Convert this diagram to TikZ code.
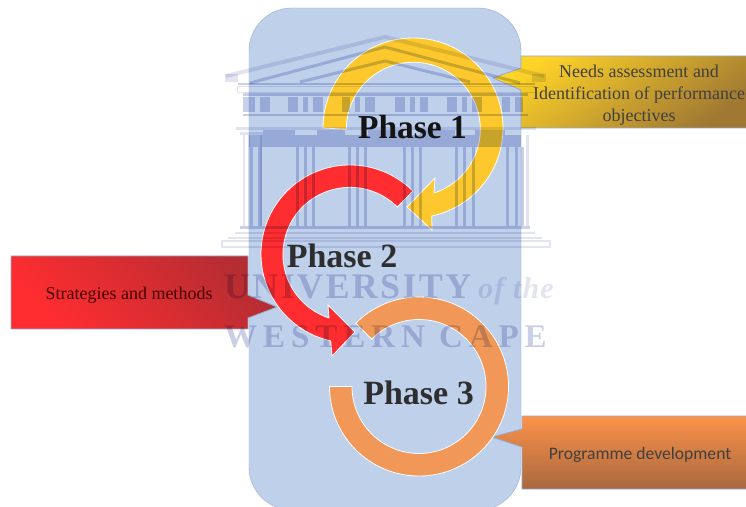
\documentclass[tikz,border=0pt]{standalone}
\usepackage{fontspec}
\setmainfont{Liberation Serif}
\newfontfamily\calibrifont{Carlito}
\definecolor{panelblue}{RGB}{191,208,235}
\definecolor{paneledge}{RGB}{150,172,208}
\definecolor{arrowyellow}{RGB}{253,200,45}
\definecolor{arrowred}{RGB}{255,45,48}
\definecolor{arroworange}{RGB}{241,151,88}
\definecolor{callyellow}{RGB}{255,212,40}
\definecolor{callyellowdark}{RGB}{160,120,50}
\definecolor{callreddark}{RGB}{180,45,50}
\definecolor{callorange}{RGB}{252,146,74}
\definecolor{callorangedark}{RGB}{168,104,62}
\definecolor{wmA}{RGB}{226,228,240}
\definecolor{wmB}{RGB}{202,208,234}
\definecolor{wmC}{RGB}{203,207,230}
\tikzset{
  cyclearrow/.style={draw=white,line width=0.8pt,line join=miter},
  callout/.style={draw=paneledge,line width=0.9pt},
  calltext/.style={font=\fontsize{18}{22}\selectfont,align=center,text=black!75,inner sep=0pt},
  phasetext/.style={font=\fontsize{34}{34}\selectfont\bfseries,inner sep=0pt,anchor=base,text=black!82},
  wmline/.style={draw=wmA,line width=#1},
  wmtext/.style={inner sep=0pt,anchor=base west,text=wmC}
}
\begin{document}
\begin{tikzpicture}[x=1pt,y=1pt]
\useasboundingbox (0,0) rectangle (746,506);
\clip (0,0) rectangle (746,506);
\fill[white] (0,0) rectangle (746,506);
% panel
\filldraw[fill=panelblue,draw=paneledge,line width=0.4pt,rounded corners=43pt]
  (249,506-8) rectangle (521,-4);
% callouts
\path[callout,top color=callyellow,bottom color=callyellowdark,shading angle=35]
  (521,506-56) -- (750,506-56) -- (750,506-128) -- (521,506-128) -- (521,506-90) -- (493,506-78) -- (521,506-68) -- cycle;
\path[callout,bottom color=arrowred,top color=callreddark,shading angle=-45]
  (11,506-256) -- (248,506-256) -- (248,506-295) -- (277,506-307) -- (248,506-318) -- (248,506-329) -- (11,506-329) -- cycle;
\path[callout,top color=callorange,bottom color=callorangedark]
  (522,506-416) -- (750,506-416) -- (750,506-489) -- (522,506-489) -- (522,506-447) -- (492,506-437) -- (522,506-429) -- cycle;
% cycle arrows
\begin{scope}[shift={(413,378)}]
\path[cyclearrow,fill=arrowyellow] (180:90) arc[start angle=180,end angle=-78,radius=90]
  -- (19,-102) -- (-6,-79) -- (22,-50) -- (21,-65)
  arc[start angle=-72,end angle=180,radius=67] -- cycle;
\end{scope}
\begin{scope}[shift={(350,252)}]
\path[cyclearrow,fill=arrowred] (45:89) arc[start angle=45,end angle=257.5,radius=89]
  -- (-18,-102) -- (5,-78) -- (-22,-51) -- (-21,-64)
  arc[start angle=251.8,end angle=45,radius=67] -- cycle;
\end{scope}
\begin{scope}[shift={(419,119.5)}]
\path[cyclearrow,fill=arroworange] (135:89.5) arc[start angle=135,end angle=-180,radius=89.5]
  -- (180:67) arc[start angle=-180,end angle=135,radius=67] -- cycle;
\end{scope}
% watermark
\begin{scope}[blend mode=multiply]
 % pediment
 \draw[wmline=4pt,line join=miter] (226,506-76) -- (385,506-37) -- (544,506-76);
 \draw[wmline=3pt,draw=wmB] (250,506-83) -- (385,506-47) -- (520,506-83);
 \draw[wmline=3pt,draw=wmB] (300,506-82) -- (385,506-61) -- (470,506-82);
 \fill[wmA] (225,506-74) rectangle (238,506-82);
 \fill[wmA] (532,506-74) rectangle (546,506-82);
 % entablature
 \fill[wmB] (238,506-83) rectangle (535,506-85);
 \draw[wmA,line width=1pt] (237,506-87) rectangle (535,506-93);
 \fill[wmB] (243,506-93) rectangle (528,506-96);
 \foreach \a/\b in {243/255,260/270,288/298,303/308,313/323,342/350,355/360,365/375,395/405,410/415,420/428,447/457,462/467,472/482,502/510,515/523}
   \fill[wmB] (\a,506-97) rectangle (\b,506-112);
 \fill[wmB] (243,506-114) rectangle (528,506-116);
 \fill[wmA] (236,506-127) rectangle (536,506-130);
 \foreach \a/\b in {263/295,317/345,368/403,420/455,475/505}
   \fill[wmB] (\a,506-130) rectangle (\b,506-135);
 \fill[wmB] (249,506-135) rectangle (521,506-147);
 \fill[wmA] (240,506-132) rectangle (263,506-135);
 % columns
 \foreach \a in {243,248,260}
   \fill[wmA] (\a,506-135) rectangle (\a+2,506-226);
 \foreach \a/\b in {250/253,258/262,296/299,304/307,312/315,348/351,356/359,364/367,403/406,411/414,419/422,455/458,463/466,472/475,506/509,515/518,521/524}
   \fill[wmB] (\a,506-147) rectangle (\b,506-226);
 \fill[wmA] (526,506-135) rectangle (529,506-226);
 % steps
 \fill[wmB] (240,506-226) rectangle (530,506-229);
 \fill[wmA] (235,506-232) rectangle (535,506-234);
 \fill[wmA] (228,506-237) rectangle (542,506-239);
 \draw[wmA,line width=1.6pt] (222,506-241) rectangle (550,506-247);
 % lettering
 \node[wmtext,font=\fontsize{36}{36}\selectfont\bfseries] (wu) at (224,506-298.5) {\addfontfeature{LetterSpace=6.5}UNIVERSITY};
 \node[wmtext,font=\fontsize{30}{30}\selectfont\bfseries\itshape,text=wmA] (wt) at (478,506-298.5) {\addfontfeature{LetterSpace=4}of the};
 \node[wmtext,font=\fontsize{33}{33}\selectfont\bfseries] (wc) at (224,506-348) {\addfontfeature{LetterSpace=18}WESTERN CAPE};
\end{scope}
% labels
\node[phasetext,font=\fontsize{33.5}{34}\selectfont\bfseries,text=black!92] (p1) at (412.5,506-139) {Phase 1};
\node[phasetext] (p2) at (342,506-268) {Phase 2};
\node[phasetext] (p3) at (418.5,506-404) {Phase 3};
\node[calltext] (n1) at (639,506-95) {Needs assessment and\\Identification of performance\\objectives};
\node[calltext,text=black!55!red!60!black] (n2) at (129,506-295.5) {Strategies and methods};
\node[calltext,font=\calibrifont\fontsize{17.6}{20}\selectfont] (n3) at (640,506-455) {Programme development};
\end{tikzpicture}
\end{document}
